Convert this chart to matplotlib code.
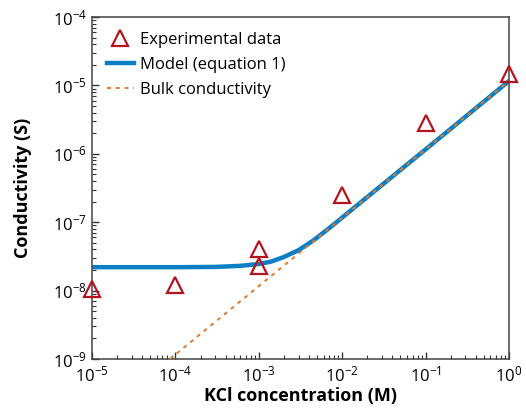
import matplotlib

matplotlib.use("Agg")
import matplotlib.pyplot as plt

plt.rcParams["font.family"] = ["Open Sans", "DejaVu Sans"]
plt.rcParams["mathtext.fontset"] = "custom"
plt.rcParams["mathtext.rm"] = "Open Sans"
plt.rcParams["mathtext.it"] = "Open Sans:italic"
plt.rcParams["mathtext.bf"] = "Open Sans:bold"

exp_conc = [1e-5, 1e-4, 1e-3, 1e-3, 1e-2, 1e-1, 1.0]
exp_cond = [1.05e-8, 1.2e-8, 4.1e-8, 2.3e-8, 2.5e-7, 2.8e-6, 1.45e-5]

# model curve (equation 1)
model_conc = [1e-5, 1e-4, 3e-4, 6e-4, 1e-3, 1.4e-3, 2e-3, 3e-3, 4.5e-3,
              7e-3, 1e-2, 1.6e-2, 3e-2, 1e-1, 1.0]
model_cond = [2.2e-8, 2.2e-8, 2.22e-8, 2.3e-8, 2.45e-8, 2.65e-8, 3.1e-8,
              3.9e-8, 5.4e-8, 8.2e-8, 1.17e-7, 1.87e-7, 3.5e-7, 1.16e-6, 1.16e-5]

# bulk conductivity line
bulk_conc = [8.6e-5, 1.0]
bulk_cond = [1e-9, 1.16e-5]

fig = plt.figure(figsize=(5.26, 4.13), dpi=100)
ax = fig.add_axes([92 / 526, 54 / 413, 417 / 526, 342 / 413])

ax.plot(model_conc, model_cond, "-", color="#0a7fc6", lw=3.2,
        label="Model (equation 1)", zorder=2, solid_joinstyle="round")
ax.plot(bulk_conc, bulk_cond, color="#e07a2c", lw=1.4, ls=(0, (2, 2.5)),
        label="Bulk conductivity", zorder=3)
ax.plot(exp_conc, exp_cond, "^", ms=11, mfc="none", mec="#b5141e", mew=1.6,
        label="Experimental data", zorder=4, clip_on=False)

ax.set_xscale("log")
ax.set_yscale("log")
ax.set_xlim(1e-5, 1)
ax.set_ylim(1e-9, 1e-4)

ax.tick_params(which="both", direction="in", top=False, right=False,
               labelsize=12, color="#333333")
ax.tick_params(which="major", length=5, width=1)
ax.tick_params(which="minor", length=3, width=0.8)
ax.tick_params(axis="x", pad=5)
for s in ax.spines.values():
    s.set_color("#444444")
    s.set_linewidth(1.1)

ax.set_xlabel("KCl concentration (M)", fontsize=13, fontweight="bold", labelpad=1)
ax.set_ylabel("Conductivity (S)", fontsize=13, fontweight="bold", labelpad=15)

h, l = ax.get_legend_handles_labels()
order = [2, 0, 1]
ax.legend([h[i] for i in order], [l[i] for i in order], loc="upper left",
          bbox_to_anchor=(0.0, 1.0), frameon=False, fontsize=12,
          handlelength=1.6, handletextpad=0.4, labelspacing=0.55)

fig.savefig("out.png", dpi=100)
